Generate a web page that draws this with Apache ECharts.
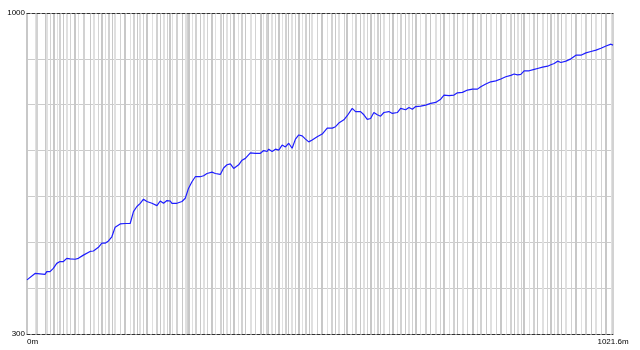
<!DOCTYPE html>
<html>
<head>
<meta charset="utf-8">
<script src="https://cdn.jsdelivr.net/npm/echarts@6/dist/echarts.min.js"></script>
<style>
html,body{margin:0;padding:0;background:#fff;}
#chart{width:640px;height:350px;}
</style>
</head>
<body>
<div id="chart"></div>
<script>
// Distance along track (m)
var distances = [0,14.0,16.9,31.4,34.4,40.2,45.9,51.9,57.6,63.4,69.3,75.1,83.8,89.6,98.3,110.0,115.8,124.5,130.5,136.2,142.0,147.9,153.7,162.4,171.1,179.9,185.6,191.6,197.4,203.1,209.0,217.8,226.5,232.3,238.0,244.0,249.7,252.7,261.4,270.2,275.9,278.9,281.7,287.6,293.4,302.1,307.9,313.8,322.5,328.3,337.0,342.8,348.7,354.5,360.3,369.0,374.9,380.7,389.4,398.2,406.9,412.7,418.6,421.4,427.3,433.1,438.9,444.8,450.5,456.3,462.2,468.0,473.8,479.7,485.5,491.2,497.2,505.9,514.6,523.4,532.1,537.9,543.6,552.4,558.3,567.0,572.8,581.5,587.3,593.2,599.0,604.7,610.7,616.4,622.2,630.9,636.9,645.6,651.4,660.1,665.9,671.8,677.6,686.3,695.0,703.8,712.5,721.2,727.0,735.7,744.4,750.4,759.1,767.9,776.6,785.3,791.1,799.8,808.5,817.3,826.0,834.7,843.5,849.2,855.2,860.9,866.7,875.4,884.2,890.1,898.8,907.6,913.3,919.1,925.0,930.8,939.5,948.2,957.0,965.7,974.4,983.1,991.9,1000.6,1009.4,1018.1,1021.6];
// Elevation (m)
var elevations = [418,432,430,430,436,436,443,454,458,458,465,464,463,465,472,480,481,489,498,498,503,512,533,540,541,541,567,578,585,594,589,585,580,590,585,591,590,585,585,589,596,592,618,632,643,643,645,650,653,650,648,662,669,671,661,669,679,683,695,694,694,700,698,703,698,703,701,712,708,716,705,725,734,732,725,719,723,730,736,749,749,752,760,767,776,792,785,785,778,768,770,783,778,775,783,785,781,783,792,789,794,790,796,797,799,803,805,812,821,820,821,826,827,832,834,834,839,845,850,852,856,861,864,867,865,866,874,874,877,879,882,884,887,890,895,892,895,900,908,908,913,916,919,923,928,932,930];
var yTickLabels = {300:'300', 1000:'1000'};
var xMin = 0, xMax = 1021.6, xUnit = 'm';
var yMin = 300, yMax = 1000, yStep = 100;

var pts = distances.map(function(d,i){return [d, elevations[i]];});
var chart = echarts.init(document.getElementById('chart'), null, {renderer:'canvas'});
var labelFont = {fontFamily:'Liberation Sans, Arial, sans-serif', fontSize:8, color:'#000'};
var dashAxis = {show:true, lineStyle:{color:'#333', width:1, type:[3,2]}};
var gridShades = ['#c8c8c8', '#e0e0e0', '#d2d2d2'];
chart.setOption({
  animation:false,
  backgroundColor:'#fff',
  grid:{left:27, right:27, top:13, bottom:16, containLabel:false},
  xAxis:[{
    type:'value', min:xMin, max:xMax, interval:xMax, position:'bottom', z:6,
    axisLine:dashAxis, axisTick:{show:false}, splitLine:{show:false},
    axisLabel:Object.assign({margin:4, showMinLabel:true, showMaxLabel:true,
      formatter:function(v){return v + xUnit;},
      alignMinLabel:'left', alignMaxLabel:'center'}, labelFont)
  },{
    type:'value', min:xMin, max:xMax, position:'top', z:6,
    axisLine:dashAxis, axisTick:{show:false}, axisLabel:{show:false}, splitLine:{show:false}
  }],
  yAxis:{
    type:'value', min:yMin, max:yMax, interval:yStep, z:3,
    axisLine:{show:false}, axisTick:{show:false},
    splitLine:{show:true, lineStyle:{color:'#cccccc', width:1}},
    axisLabel:Object.assign({margin:2, formatter:function(v){return yTickLabels[v]||'';}}, labelFont)
  },
  series:[{
    type:'line', data:pts, z:1, showSymbol:false, silent:true,
    lineStyle:{opacity:0},
    markLine:{
      silent:true, symbol:['none','none'], animation:false,
      label:{show:false},
      lineStyle:{color:'#d0d0d0', width:2, type:'solid'},
      emphasis:{disabled:true},
      data:distances.map(function(d,i){
        return {xAxis:d, lineStyle:{color:gridShades[i % gridShades.length], width:(i % 2 ? 1 : 2)}};
      })
    }
  },{
    type:'line', data:pts, z:5, showSymbol:false, smooth:false,
    lineStyle:{color:'#1e1eff', width:1.2}
  }]
});
</script>
</body>
</html>
